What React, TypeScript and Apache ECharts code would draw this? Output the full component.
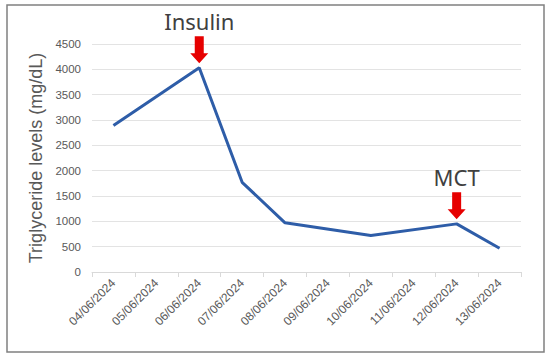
import React, { useEffect, useRef } from "react";
import * as echarts from "echarts";

const categories = [
  "04/06/2024",
  "05/06/2024",
  "06/06/2024",
  "07/06/2024",
  "08/06/2024",
  "09/06/2024",
  "10/06/2024",
  "11/06/2024",
  "12/06/2024",
  "13/06/2024",
];
const triglycerides: (number | null)[] = [2890, null, 4030, 1770, 970, null, 720, null, 950, 470];
const annotations = [
  { name: "Insulin", date: "06/06/2024", value: 4030 },
  { name: "MCT", date: "12/06/2024", value: 950 },
];

const arrowPath = "path://M4.5,0 H13.5 V17 H18 L9,27 L0,17 H4.5 Z";

export default function App() {
  const ref = useRef<HTMLDivElement>(null);
  useEffect(() => {
    if (!ref.current) return;
    const chart = echarts.init(ref.current, undefined, { renderer: "svg" });
    chart.setOption({
      animation: false,
      backgroundColor: "#ffffff",
      grid: { left: 92, right: 29, top: 44, bottom: 86 },
      graphic: [
        {
          type: "rect",
          shape: { x: 7, y: 5, width: 537, height: 347 },
          style: { fill: "none", stroke: "#808080", lineWidth: 1.5 },
          silent: true,
        },
      ],
      xAxis: {
        type: "category",
        data: categories,
        boundaryGap: true,
        axisLine: { show: true, lineStyle: { color: "#d9d9d9", width: 1 } },
        axisTick: { show: true, length: 5, lineStyle: { color: "#d9d9d9" } },
        axisLabel: {
          rotate: 45,
          color: "#595959",
          fontSize: 12,
          fontFamily: "Liberation Sans, Arial, sans-serif",
          margin: 9,
          interval: 0,
        },
      },
      yAxis: {
        type: "value",
        min: 0,
        max: 4500,
        interval: 500,
        name: "Triglyceride levels (mg/dL)",
        nameLocation: "middle",
        nameGap: 38,
        nameTextStyle: {
          color: "#595959",
          fontSize: 18,
          fontFamily: "Liberation Sans, Arial, sans-serif",
        },
        axisLine: { show: false },
        axisTick: { show: false },
        splitLine: { lineStyle: { color: "#e3e3e3", width: 1 } },
        axisLabel: {
          color: "#595959",
          fontSize: 11.5,
          fontFamily: "Liberation Sans, Arial, sans-serif",
          margin: 11,
          formatter: (v: number) => String(v),
        },
      },
      series: [
        {
          type: "line",
          data: triglycerides,
          connectNulls: true,
          showSymbol: false,
          symbol: "none",
          lineStyle: { color: "#2e5da8", width: 3 },
          markPoint: {
            silent: true,
            symbol: arrowPath,
            symbolSize: [18, 27],
            symbolKeepAspect: false,
            symbolOffset: [0, -18],
            itemStyle: { color: "#e60000" },
            label: {
              show: true,
              position: "top",
              distance: 4,
              color: "#404040",
              fontSize: 22,
              fontFamily: "Noto Sans, sans-serif",
              formatter: (p: any) => p.name,
            },
            data: annotations.map((a) => ({ name: a.name, coord: [a.date, a.value] })),
          },
        },
      ],
    });
    return () => chart.dispose();
  }, []);
  return (
    <div
      ref={ref}
      style={{ position: "fixed", left: 0, top: 0, width: 550, height: 358, background: "#fff" }}
    />
  );
}
